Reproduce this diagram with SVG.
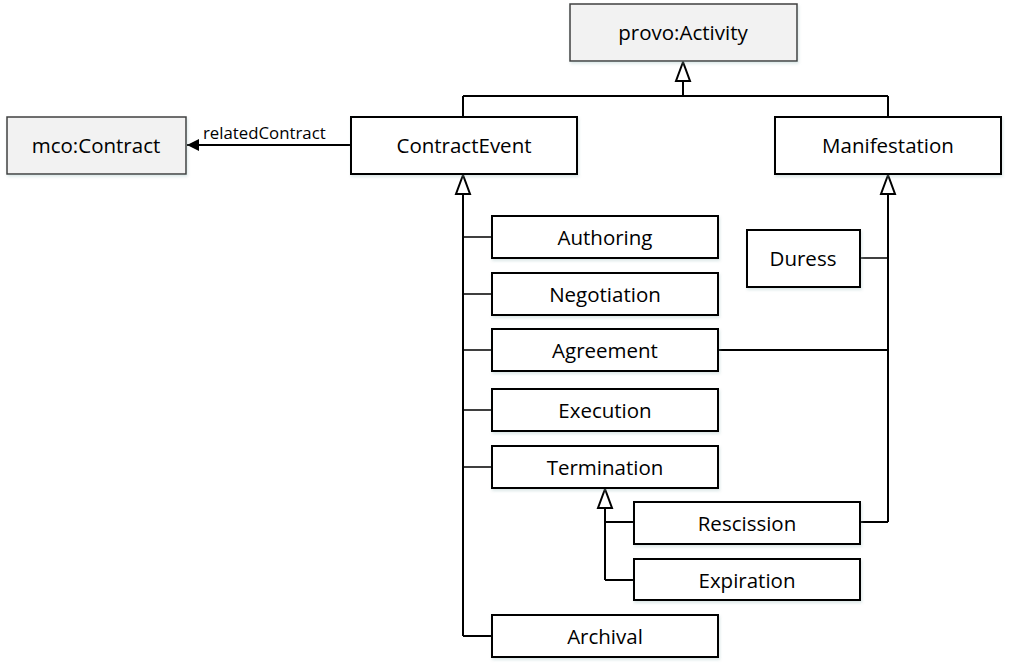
<svg xmlns="http://www.w3.org/2000/svg" width="1010" height="669" viewBox="0 0 1010 669">
<style>
.box{fill:#fff;stroke:#000;stroke-width:2}
.ext{fill:#f2f2f2;stroke:#404040;stroke-width:1.5}
.t{font-family:"Open Sans","Noto Sans",sans-serif;font-size:20.5px;fill:#000;text-anchor:middle;dominant-baseline:central}
.l{font-family:"Open Sans","Noto Sans",sans-serif;font-size:16.8px;fill:#000}
.c{fill:none;stroke:#000;stroke-width:2}
.b{fill:none;stroke:#000;stroke-width:1.5}
</style>
<defs>
<filter id="sh" x="-10%" y="-10%" width="120%" height="140%">
<feDropShadow dx="1" dy="2" stdDeviation="1.5" flood-color="#9bb" flood-opacity="0.35"/>
</filter>
<marker id="gen" markerWidth="22" markerHeight="18" refX="21" refY="9" orient="auto" markerUnits="userSpaceOnUse" viewBox="0 0 22 18">
<path d="M21,9 L2,2 L2,16 Z" fill="#fff" stroke="#000" stroke-width="2"/>
</marker>
<marker id="arr" markerWidth="14" markerHeight="14" refX="13" refY="7" orient="auto" markerUnits="userSpaceOnUse" viewBox="0 0 14 14">
<path d="M13,7 L1,1 L1,13 Z" fill="#000"/>
</marker>
</defs>
<g id="connectors">
<path class="c" d="M463,96 H888 M463,96 V117 M888,96 V117"/>
<path class="c" d="M683,96 V62" marker-end="url(#gen)"/>
<path class="c" d="M350,145 H187" marker-end="url(#arr)"/>
<text class="l" x="203" y="139">relatedContract</text>
<path class="c" d="M463,636 V175" marker-end="url(#gen)"/>
<path class="b" d="M463,237 H492 M463,294 H492 M463,350 H492 M463,410 H492 M463,467 H492"/>
<path class="c" d="M463,636 H492"/>
<path class="c" d="M888,522 V175" marker-end="url(#gen)"/>
<path class="b" d="M860,258 H888"/>
<path class="c" d="M718,350 H888 M860,522 H888"/>
<path class="c" d="M605,580 V489" marker-end="url(#gen)"/>
<path class="c" d="M605,522 H634 M605,580 H634"/>
</g>
<g id="provo-activity"><rect class="ext" x="570" y="4" width="227" height="57" filter="url(#sh)"/><text class="t" x="683" y="32">provo:Activity</text></g>
<g id="mco-contract"><rect class="ext" x="7" y="117" width="179" height="57" filter="url(#sh)"/><text class="t" x="96" y="145">mco:Contract</text></g>
<g id="contract-event"><rect class="box" x="351" y="117" width="226" height="57" filter="url(#sh)"/><text class="t" x="464" y="145">ContractEvent</text></g>
<g id="manifestation"><rect class="box" x="775" y="117" width="226" height="57" filter="url(#sh)"/><text class="t" x="888" y="145">Manifestation</text></g>
<g id="authoring"><rect class="box" x="492" y="216" width="226" height="42" filter="url(#sh)"/><text class="t" x="605" y="237">Authoring</text></g>
<g id="negotiation"><rect class="box" x="492" y="273" width="226" height="42" filter="url(#sh)"/><text class="t" x="605" y="294">Negotiation</text></g>
<g id="agreement"><rect class="box" x="492" y="329" width="226" height="42" filter="url(#sh)"/><text class="t" x="605" y="350">Agreement</text></g>
<g id="execution"><rect class="box" x="492" y="389" width="226" height="42" filter="url(#sh)"/><text class="t" x="605" y="410">Execution</text></g>
<g id="termination"><rect class="box" x="492" y="446" width="226" height="42" filter="url(#sh)"/><text class="t" x="605" y="467">Termination</text></g>
<g id="duress"><rect class="box" x="747" y="230" width="113" height="57" filter="url(#sh)"/><text class="t" x="803" y="258">Duress</text></g>
<g id="rescission"><rect class="box" x="634" y="502" width="226" height="42" filter="url(#sh)"/><text class="t" x="747" y="523">Rescission</text></g>
<g id="expiration"><rect class="box" x="634" y="559" width="226" height="41" filter="url(#sh)"/><text class="t" x="747" y="580">Expiration</text></g>
<g id="archival"><rect class="box" x="492" y="615" width="226" height="42" filter="url(#sh)"/><text class="t" x="605" y="636">Archival</text></g>
</svg>
